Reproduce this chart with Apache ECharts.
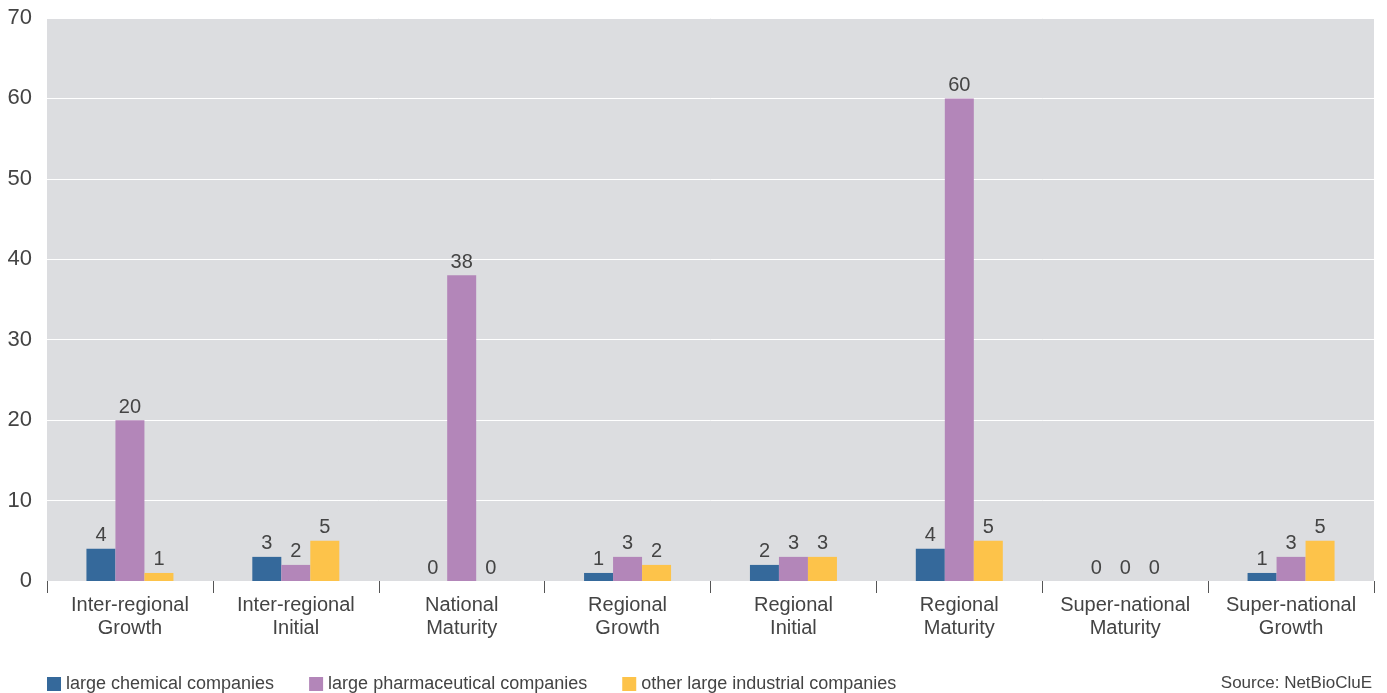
<!DOCTYPE html>
<html><head><meta charset="utf-8">
<script src="https://cdn.jsdelivr.net/npm/echarts@6/dist/echarts.min.js"></script>
<style>html,body{margin:0;padding:0;background:#fff}#c{width:1387px;height:693px}</style>
</head><body><div id="c"></div>
<script>
const categories = ["Inter-regional\nGrowth","Inter-regional\nInitial","National\nMaturity","Regional\nGrowth","Regional\nInitial","Regional\nMaturity","Super-national\nMaturity","Super-national\nGrowth"];
const chemical = [4,3,0,1,2,4,0,1];
const pharma = [20,2,38,3,3,60,0,3];
const other = [1,5,0,2,3,5,0,5];
const seriesNames = ["large chemical companies","large pharmaceutical companies","other large industrial companies"];
const colors = ["#35699b","#b386b9","#fdc34a"];
const FONT = "Liberation Sans";
const chart = echarts.init(document.getElementById('c'));
const lbl = {show:true, position:'top', distance:3, fontFamily:FONT, fontSize:20, color:'#444'};
chart.setOption({
  animation:false,
  textStyle:{fontFamily:FONT},
  grid:{left:47,right:13,top:18,bottom:112,show:true,backgroundColor:'#dcdde0',borderWidth:0},
  legend:{left:42,top:670,itemWidth:14,itemHeight:14,itemGap:35,icon:'rect',
    textStyle:{fontFamily:FONT,fontSize:18,color:'#444'},data:seriesNames},
  graphic:[{type:'text',right:15,top:675,style:{text:'Source: NetBioCluE',font:'17px "Liberation Sans"',fill:'#444'}}],
  xAxis:{type:'category',data:categories,
    axisLine:{show:false},
    axisTick:{show:true,interval:0,length:12,lineStyle:{color:'#555'}},
    axisLabel:{interval:0,fontFamily:FONT,fontSize:20,color:'#444',lineHeight:23,margin:13}},
  yAxis:{type:'value',min:0,max:70,interval:10,
    splitLine:{lineStyle:{color:'#ffffff',width:1}},
    axisLine:{show:false},axisTick:{show:false},
    axisLabel:{fontFamily:FONT,fontSize:22,color:'#444',margin:15}},
  series:[
    {name:seriesNames[0],type:'bar',data:chemical,itemStyle:{color:colors[0]},barWidth:29,barGap:'0%',label:lbl},
    {name:seriesNames[1],type:'bar',data:pharma,itemStyle:{color:colors[1]},barWidth:29,barGap:'0%',label:lbl},
    {name:seriesNames[2],type:'bar',data:other,itemStyle:{color:colors[2]},barWidth:29,barGap:'0%',label:lbl}
  ]
});
</script></body></html>
